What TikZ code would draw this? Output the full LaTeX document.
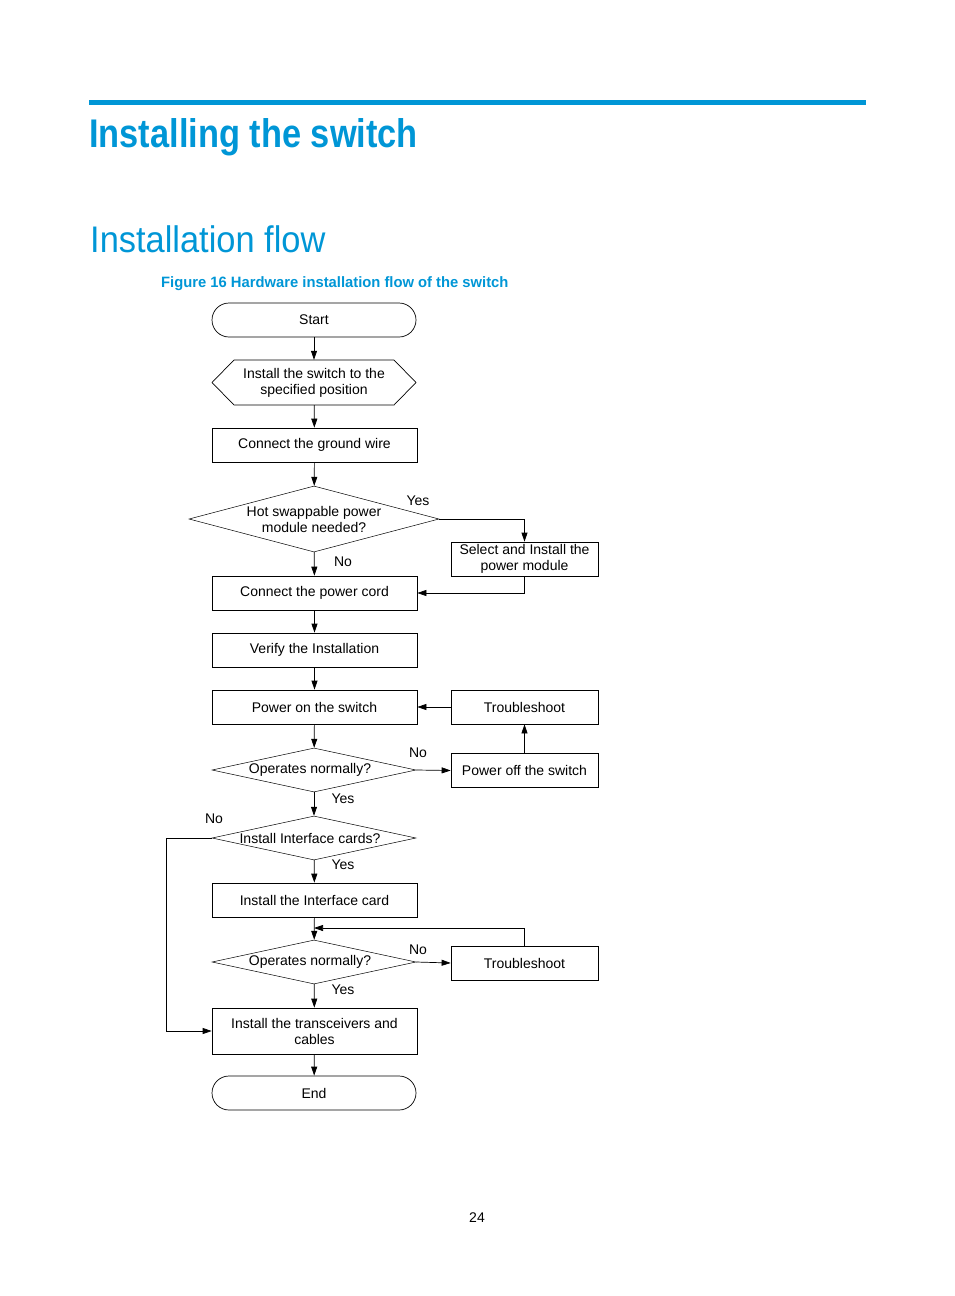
\documentclass[tikz,border=0pt]{standalone}
\usepackage{fontspec}
\setmainfont{Liberation Sans}
\usetikzlibrary{shapes.geometric,arrows.meta}
\definecolor{hpblue}{HTML}{0096D6}
\begin{document}
\begin{tikzpicture}[x=1pt,y=-1pt,
 box/.style={draw,line width=0.7pt,minimum width=205pt,minimum height=34pt,inner sep=1pt,align=center,font=\fontsize{14}{16}\selectfont},
 sbox/.style={box,minimum width=147pt},
 term/.style={box,rounded corners=17pt,minimum width=204pt},
 dia/.style={draw,line width=0.5pt,diamond,inner sep=0pt,minimum width=204pt,minimum height=44pt,aspect=4.6},
 lab/.style={font=\fontsize{14}{16}\selectfont},
 arr/.style={line width=0.7pt,-{Triangle[length=9pt,width=6pt]}}]
\useasboundingbox (0,0) rectangle (954,1296);
\fill[hpblue] (89,100) rectangle (866,104.5);
\node[anchor=base west,inner sep=0,text=hpblue,font=\fontsize{40}{44}\selectfont\bfseries,xscale=0.86] (t1) at (89,147) {Installing the switch};
\node[anchor=base west,inner sep=0,text=hpblue,font=\fontsize{37}{40}\selectfont,xscale=0.93] (t2) at (90,252) {Installation flow};
\node[anchor=base west,inner sep=0,text=hpblue,font=\fontsize{15}{18}\selectfont\bfseries,xscale=0.985] (cap) at (161,287) {Figure 16 Hardware installation flow of the switch};
\node[term] (start) at (314,320) {Start};
\draw[line width=0.7pt] (212,382.5) -- (234,360) -- (394,360) -- (416,382.5) -- (394,405) -- (234,405) -- cycle;
\node[minimum width=204pt,minimum height=45pt,inner sep=0pt,align=center,font=\fontsize{14}{16}\selectfont] (inst) at (314,382.5) {Install the switch to the\\specified position};
\node[box] (ground) at (314.5,445) {Connect the ground wire};
\node[dia,minimum width=250pt,minimum height=66pt,aspect=3.8] (hot) at (314,519) {};
\node[lab,align=center] at (314,519) {Hot swappable power\\module needed?};
\node[sbox] (sel) at (524.5,559) {Select and Install the\\power module};
\node[box] (cord) at (314.5,593) {Connect the power cord};
\node[box] (ver) at (314.5,650) {Verify the Installation};
\node[box] (pon) at (314.5,707) {Power on the switch};
\node[sbox] (tr1) at (524.5,707) {Troubleshoot};
\node[dia] (op1) at (314,770) {};
\node[lab] at (310,770) {Operates normally?};
\node[sbox] (poff) at (524.5,770.5) {Power off the switch};
\node[dia] (ic) at (314,838) {};
\node[lab] at (310,838) {Install Interface cards?};
\node[box] (iic) at (314.5,900) {Install the Interface card};
\node[dia] (op2) at (314,962) {};
\node[lab] at (310,962) {Operates normally?};
\node[sbox] (tr2) at (524.5,963) {Troubleshoot};
\node[box,minimum height=46pt] (trans) at (314.5,1031) {Install the transceivers and\\cables};
\node[term] (end) at (314,1093) {End};
\node[lab] at (477,1218) {24};
\draw[arr] (start) -- (inst);
\draw[arr] (inst) -- (ground);
\draw[arr] (ground) -- (hot);
\draw[arr] (hot.east) -| (sel.north);
\draw[arr] (hot) -- (cord);
\draw[arr] (sel.south) |- (cord.east);
\draw[arr] (cord) -- (ver);
\draw[arr] (ver) -- (pon);
\draw[arr] (tr1) -- (pon);
\draw[arr] (pon) -- (op1);
\draw[arr] (op1.east) -- (poff.west);
\draw[arr] (poff) -- (tr1);
\draw[arr] (op1) -- (ic);
\draw[arr] (ic) -- (iic);
\coordinate (m) at (314,928);
\draw[arr] (iic) -- (op2);
\draw[arr] (tr2.north) |- (m);
\draw[arr] (op2.east) -- (tr2.west);
\draw[arr] (op2) -- (trans);
\coordinate (l) at (166,838);
\draw[arr] (ic.west) -- (l) |- (trans.west);
\draw[arr] (trans) -- (end);
\node[lab] at (418,501) {Yes};
\node[lab] at (343,562) {No};
\node[lab] at (418,753) {No};
\node[lab] at (343,799) {Yes};
\node[lab] at (214,819) {No};
\node[lab] at (343,865) {Yes};
\node[lab] at (418,950) {No};
\node[lab] at (343,990) {Yes};
\end{tikzpicture}
\end{document}
